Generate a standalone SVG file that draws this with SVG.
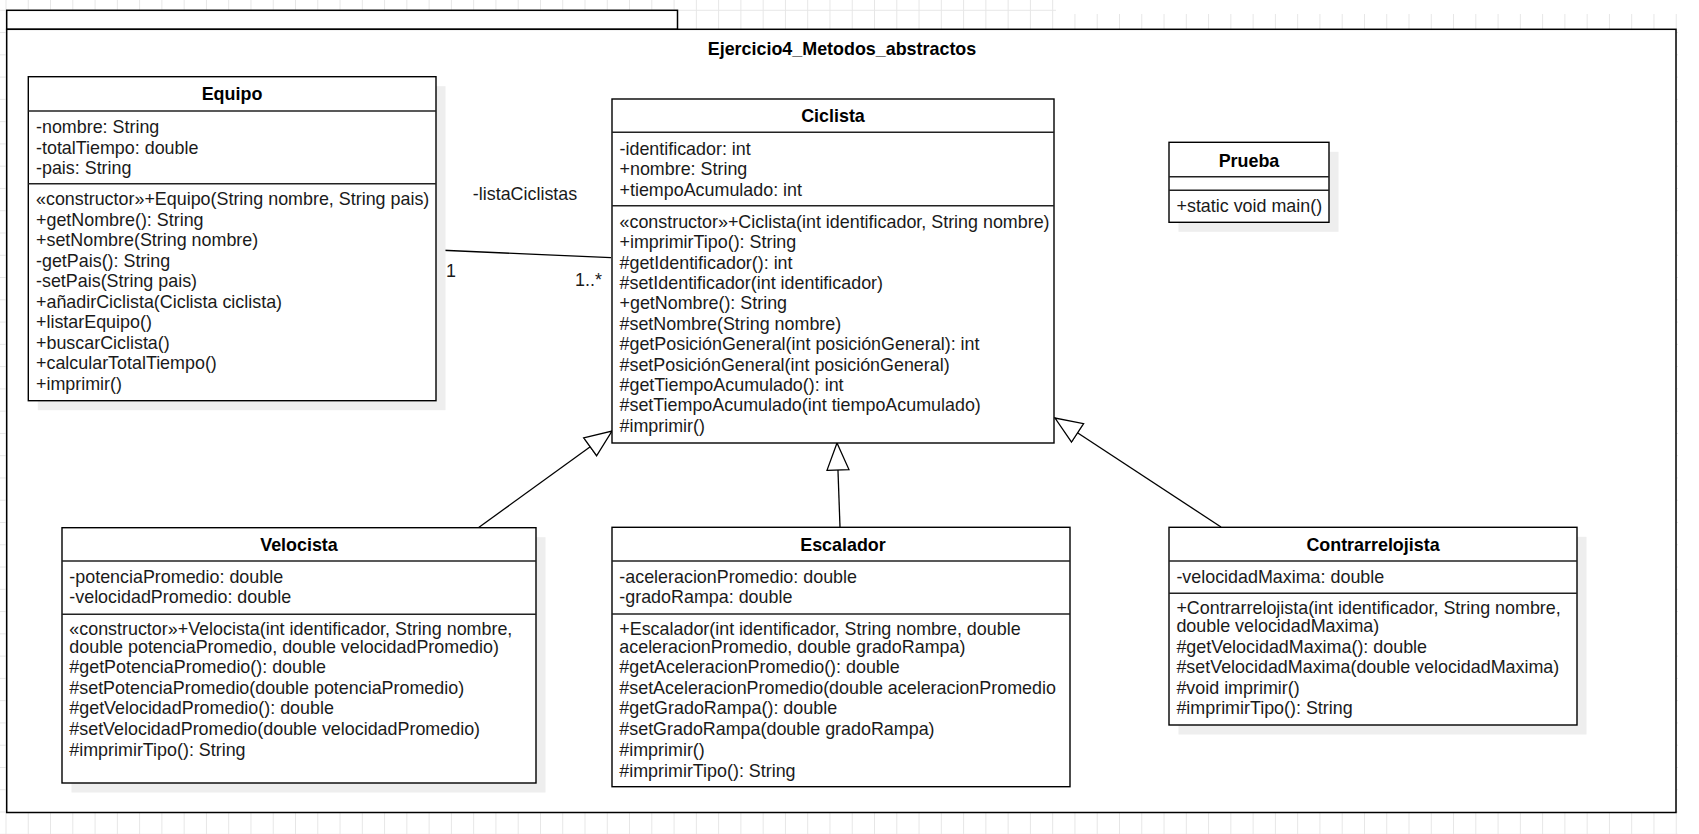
<svg xmlns="http://www.w3.org/2000/svg" width="1699" height="834" viewBox="0 0 1699 834">
<style>
text{font-family:"Liberation Sans",Arial,Helvetica,sans-serif;font-size:17.9px;fill:#1a1a1a}
.h{font-weight:bold;text-anchor:middle;fill:#000}
.box{fill:#fff;stroke:#000;stroke-width:1.4}
.sep{stroke:#222;stroke-width:1.4}
.sh{fill:#eeeeee}
.edge{fill:none;stroke:#000;stroke-width:1.3}
.frame{fill:#fff;stroke:#000;stroke-width:1.5}
</style>
<defs>
<pattern id="grid" patternUnits="userSpaceOnUse" x="5.5" y="9.8" width="22.27" height="22.27">
<path d="M0,0.5H22.27M0.5,0V22.27" stroke="#e6e6e6" stroke-width="1" fill="none"/>
</pattern>
<marker id="gen" markerUnits="userSpaceOnUse" viewBox="0 0 29 25" markerWidth="29" markerHeight="25" refX="28" refY="12.5" orient="auto">
<path d="M1,1.5L28,12.5L1,23.5Z" fill="#fff" stroke="#000" stroke-width="1.3"/>
</marker>
<clipPath id="clipEsc"><rect x="612" y="527" width="444" height="262"/></clipPath>
</defs>
<rect x="0" y="0" width="1699" height="834" fill="#fff"/>
<rect x="0" y="0" width="1678" height="834" fill="url(#grid)"/>
<rect x="1056" y="0" width="643" height="14" fill="#fff"/>

<g id="package">
<rect class="frame" x="6.7" y="10.3" width="670.8" height="19"/>
<rect class="frame" x="6.7" y="29.3" width="1669.3" height="783.2"/>
<text class="h" x="842" y="55">Ejercicio4_Metodos_abstractos</text>
</g>

<g id="connectors">
<path class="edge" d="M437,250L611,257.7"/>
<rect x="435" y="262" width="25" height="18" fill="#fff"/>
<text x="446" y="276.5">1</text>
<text x="575" y="286">1..*</text>
<text x="525" y="199.5" text-anchor="middle">-listaCiclistas</text>
<path class="edge" d="M478,528L612,431" marker-end="url(#gen)"/>
<path class="edge" d="M840,527L837,443" marker-end="url(#gen)"/>
<path class="edge" d="M1221,527L1055,418" marker-end="url(#gen)"/>
</g>

<g id="Equipo">
<rect class="sh" x="37.8" y="86.2" width="407.7" height="324"/>
<rect class="box" x="28.3" y="76.7" width="407.7" height="324"/>
<line class="sep" x1="28.3" y1="111" x2="436" y2="111"/>
<line class="sep" x1="28.3" y1="183.7" x2="436" y2="183.7"/>
<text class="h" x="232" y="100">Equipo</text>
<text x="36" y="133">-nombre: String</text>
<text x="36" y="153.5">-totalTiempo: double</text>
<text x="36" y="174">-pais: String</text>
<text x="36" y="205">«constructor»+Equipo(String nombre, String pais)</text>
<text x="36" y="225.5">+getNombre(): String</text>
<text x="36" y="246.1">+setNombre(String nombre)</text>
<text x="36" y="266.6">-getPais(): String</text>
<text x="36" y="287.2">-setPais(String pais)</text>
<text x="36" y="307.7">+añadirCiclista(Ciclista ciclista)</text>
<text x="36" y="328.3">+listarEquipo()</text>
<text x="36" y="348.8">+buscarCiclista()</text>
<text x="36" y="369.4">+calcularTotalTiempo()</text>
<text x="36" y="389.9">+imprimir()</text>
</g>

<g id="Ciclista">
<rect class="box" x="612" y="99" width="442" height="344"/>
<line class="sep" x1="612" y1="132.3" x2="1054" y2="132.3"/>
<line class="sep" x1="612" y1="205.7" x2="1054" y2="205.7"/>
<text class="h" x="833" y="122">Ciclista</text>
<text x="619.5" y="154.5">-identificador: int</text>
<text x="619.5" y="175">+nombre: String</text>
<text x="619.5" y="195.5">+tiempoAcumulado: int</text>
<text x="619.5" y="227.7">«constructor»+Ciclista(int identificador, String nombre)</text>
<text x="619.5" y="248.1">+imprimirTipo(): String</text>
<text x="619.5" y="268.5">#getIdentificador(): int</text>
<text x="619.5" y="288.9">#setIdentificador(int identificador)</text>
<text x="619.5" y="309.3">+getNombre(): String</text>
<text x="619.5" y="329.7">#setNombre(String nombre)</text>
<text x="619.5" y="350.1">#getPosiciónGeneral(int posiciónGeneral): int</text>
<text x="619.5" y="370.5">#setPosiciónGeneral(int posiciónGeneral)</text>
<text x="619.5" y="390.9">#getTiempoAcumulado(): int</text>
<text x="619.5" y="411.3">#setTiempoAcumulado(int tiempoAcumulado)</text>
<text x="619.5" y="431.7">#imprimir()</text>
</g>

<g id="Prueba">
<rect class="sh" x="1178.5" y="151.8" width="160" height="80"/>
<rect class="box" x="1169" y="142.3" width="160" height="80"/>
<line class="sep" x1="1169" y1="176.7" x2="1329" y2="176.7"/>
<line class="sep" x1="1169" y1="190.3" x2="1329" y2="190.3"/>
<text class="h" x="1249" y="166.5">Prueba</text>
<text x="1176.5" y="212">+static void main()</text>
</g>

<g id="Velocista">
<rect class="sh" x="71.5" y="537.2" width="474" height="255.3"/>
<rect class="box" x="62" y="527.7" width="474" height="255.3"/>
<line class="sep" x1="62" y1="561" x2="536" y2="561"/>
<line class="sep" x1="62" y1="614.3" x2="536" y2="614.3"/>
<text class="h" x="299" y="551">Velocista</text>
<text x="69.3" y="583">-potenciaPromedio: double</text>
<text x="69.3" y="603">-velocidadPromedio: double</text>
<text x="69.3" y="635">«constructor»+Velocista(int identificador, String nombre,</text>
<text x="69.3" y="652.7">double potenciaPromedio, double velocidadPromedio)</text>
<text x="69.3" y="673">#getPotenciaPromedio(): double</text>
<text x="69.3" y="693.6">#setPotenciaPromedio(double potenciaPromedio)</text>
<text x="69.3" y="714.4">#getVelocidadPromedio(): double</text>
<text x="69.3" y="735">#setVelocidadPromedio(double velocidadPromedio)</text>
<text x="69.3" y="755.5">#imprimirTipo(): String</text>
</g>

<g id="Escalador">
<rect class="box" x="612" y="527.3" width="458" height="259.4"/>
<line class="sep" x1="612" y1="561" x2="1070" y2="561"/>
<line class="sep" x1="612" y1="614" x2="1070" y2="614"/>
<text class="h" x="843" y="551">Escalador</text>
<g clip-path="url(#clipEsc)">
<text x="619.3" y="583">-aceleracionPromedio: double</text>
<text x="619.3" y="603">-gradoRampa: double</text>
<text x="619.3" y="634.6">+Escalador(int identificador, String nombre, double</text>
<text x="619.3" y="652.8">aceleracionPromedio, double gradoRampa)</text>
<text x="619.3" y="673">#getAceleracionPromedio(): double</text>
<text x="619.3" y="693.6">#setAceleracionPromedio(double aceleracionPromedio</text>
<text x="619.3" y="714.4">#getGradoRampa(): double</text>
<text x="619.3" y="735">#setGradoRampa(double gradoRampa)</text>
<text x="619.3" y="755.5">#imprimir()</text>
<text x="619.3" y="776.5">#imprimirTipo(): String</text>
</g>
</g>

<g id="Contrarrelojista">
<rect class="sh" x="1178.5" y="536.8" width="408" height="197.7"/>
<rect class="box" x="1169" y="527.3" width="408" height="197.7"/>
<line class="sep" x1="1169" y1="561" x2="1577" y2="561"/>
<line class="sep" x1="1169" y1="593.3" x2="1577" y2="593.3"/>
<text class="h" x="1373" y="551">Contrarrelojista</text>
<text x="1176.4" y="582.7">-velocidadMaxima: double</text>
<text x="1176.4" y="614.4">+Contrarrelojista(int identificador, String nombre,</text>
<text x="1176.4" y="632">double velocidadMaxima)</text>
<text x="1176.4" y="652.7">#getVelocidadMaxima(): double</text>
<text x="1176.4" y="673.4">#setVelocidadMaxima(double velocidadMaxima)</text>
<text x="1176.4" y="694.2">#void imprimir()</text>
<text x="1176.4" y="714.4">#imprimirTipo(): String</text>
</g>
</svg>
